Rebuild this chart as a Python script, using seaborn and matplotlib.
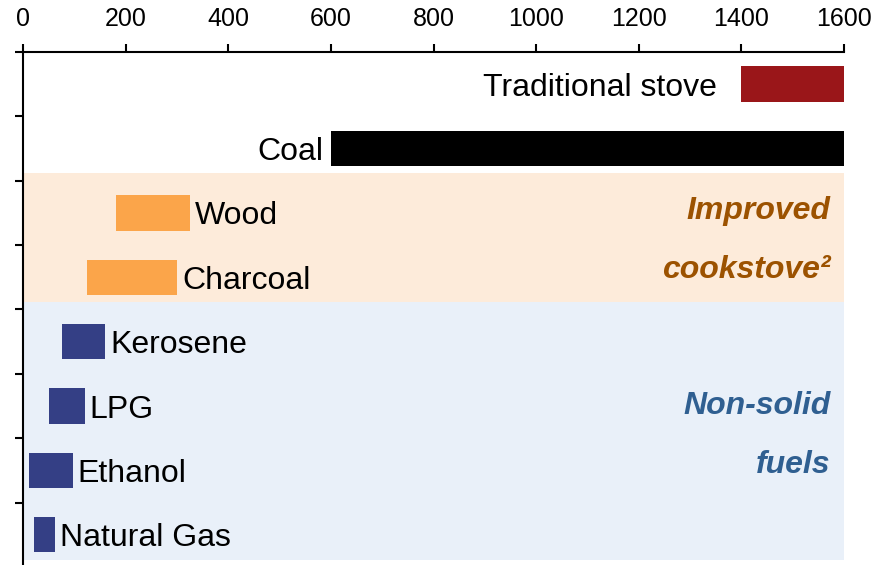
import matplotlib
matplotlib.use('Agg')
import matplotlib.pyplot as plt
import seaborn as sns

# Data
fuels = ['Traditional stove', 'Coal', 'Wood', 'Charcoal',
         'Kerosene', 'LPG', 'Ethanol', 'Natural Gas']
low = [1400, 600, 180, 125, 75, 50, 12, 20]
high = [1600, 1600, 325, 300, 160, 120, 96, 62]
colors = ['#9A1619', '#000000', '#FBA54A', '#FBA54A',
          '#343F85', '#343F85', '#343F85', '#343F85']
label_left = [True, True, False, False, False, False, False, False]
ticks_x = [0, 200, 400, 600, 800, 1000, 1200, 1400, 1600]

sns.set_theme(style='white')
plt.rcParams['font.family'] = ['Liberation Sans', 'DejaVu Sans']

fig = plt.figure(figsize=(8.87, 5.65), dpi=100)
ax = fig.add_axes([0.0263, -0.0035, 0.925, 0.9115])

# Background bands for the groups
ax.axhspan(1.38, 3.385, color='#FDEBDA', zorder=0, lw=0)
ax.axhspan(3.385, 7.39, color='#E9F0F9', zorder=0, lw=0)

ypos = list(range(len(fuels)))
widths = [h - l for l, h in zip(low, high)]
ax.barh(ypos, widths, left=low, height=0.55, color=colors,
        edgecolor='none', linewidth=0, zorder=2)

for i, name in enumerate(fuels):
    if label_left[i]:
        off = -24 if i == 0 else -8
        ax.annotate(name, (low[i], i), xytext=(off, 0), textcoords='offset pixels',
                    ha='right', va='center_baseline', fontsize=23, color='black', zorder=3)
    else:
        ax.annotate(name, (high[i], i), xytext=(5, 0), textcoords='offset pixels',
                    ha='left', va='center_baseline', fontsize=23, color='black', zorder=3)

# Group annotations
note_kw = dict(ha='right', va='center_baseline', fontsize=23, fontweight='bold',
               fontstyle='italic', zorder=3)
ax.text(1574, 1.92, 'Improved', color='#9C5200', **note_kw)
ax.text(1574, 2.84, 'cookstove\u00b2', color='#9C5200', **note_kw)
ax.text(1574, 4.94, 'Non-solid', color='#2F5F91', **note_kw)
ax.text(1574, 5.86, 'fuels', color='#2F5F91', **note_kw)

ax.set_xlim(0, 1600)
ax.set_ylim(7.5, -0.5)
ax.xaxis.tick_top()
ax.set_xticks(ticks_x)
ax.set_xticklabels([str(t) for t in ticks_x])
ax.set_yticks([i - 0.5 for i in range(len(fuels))])
ax.set_yticklabels([])
ax.tick_params(axis='x', direction='out', length=6, width=1.5, labelsize=18,
               pad=9, colors='black', top=True, bottom=False)
ax.tick_params(axis='y', direction='out', length=6, width=1.5, left=True, colors='black')

for side in ['right', 'bottom']:
    ax.spines[side].set_visible(False)
for side in ['top', 'left']:
    ax.spines[side].set_color('black')
    ax.spines[side].set_linewidth(1.5)
ax.set_facecolor('white')
ax.grid(False)

fig.savefig('out.png', dpi=100)
